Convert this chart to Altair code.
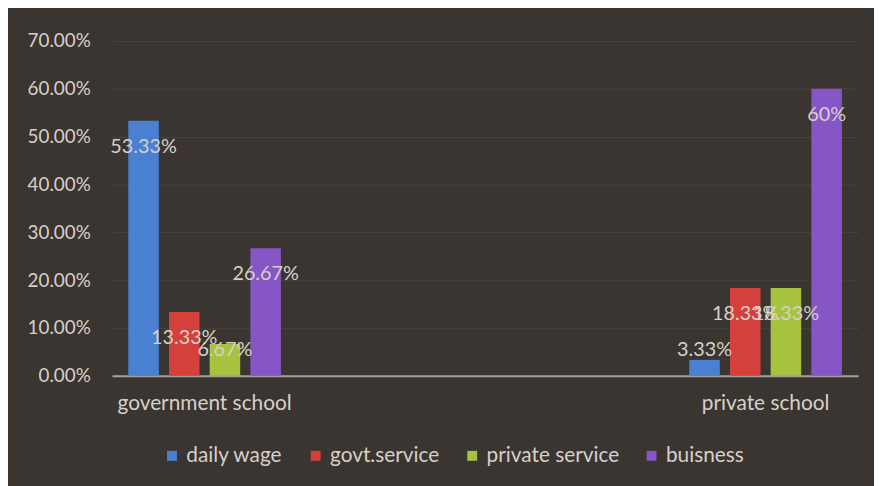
import altair as alt
import pandas as pd

schools = ["government school", "private school"]
occupations = ["daily wage", "govt.service", "private service", "buisness"]
gov_values = [0.5333, 0.1333, 0.0667, 0.2667]
pvt_values = [0.0333, 0.1833, 0.1833, 0.60]
gov_labels = ["53.33%", "13.33%", "6.67%", "26.67%"]
pvt_labels = ["3.33%", "18.33%", "18.33%", "60%"]
colors = ["#4a80d2", "#d4403c", "#a6c23e", "#8756c6"]
y_ticks = [0, 0.1, 0.2, 0.3, 0.4, 0.5, 0.6, 0.7]

rows = []
for school, vals, labs in [(schools[0], gov_values, gov_labels), (schools[1], pvt_values, pvt_labels)]:
    for occ, v, l in zip(occupations, vals, labs):
        rows.append({"school": school, "occupation": occ, "value": v, "label": l})
df = pd.DataFrame(rows)

FONT = "Lato"
TXT = "#d6d0ca"

x_enc = alt.X("school:N", sort=schools,
              scale=alt.Scale(paddingInner=0.728, paddingOuter=0.029),
              axis=alt.Axis(title=None, labelAngle=0, ticks=False, tickSize=0,
                            domainColor="#a8a29c", domainWidth=2,
                            labelColor=TXT, labelFont=FONT, labelFontSize=21,
                            labelPadding=17))
xoff = alt.XOffset("occupation:N", sort=occupations,
                   scale=alt.Scale(paddingInner=0.25, paddingOuter=0))

base = alt.Chart(df)

bars = base.mark_bar().encode(
    x=x_enc,
    xOffset=xoff,
    y=alt.Y("value:Q", scale=alt.Scale(domain=[0, 0.7], nice=False),
            axis=alt.Axis(title=None, values=y_ticks, format=".2%",
                          domain=False, ticks=False, tickSize=0,
                          labelColor=TXT, labelFont=FONT, labelFontSize=19,
                          labelPadding=22, gridColor="#5a524d", gridOpacity=0.45)),
    color=alt.Color("occupation:N", sort=occupations,
                    scale=alt.Scale(domain=occupations, range=colors),
                    legend=alt.Legend(title=None, orient="none", direction="horizontal",
                                      legendX=50, legendY=408,
                                      symbolType="square", symbolSize=100,
                                      symbolStrokeWidth=0,
                                      labelColor=TXT, labelFont=FONT, labelFontSize=21,
                                      labelOffset=4, columnPadding=22)),
)

labels = base.transform_calculate(
    ly="max(datum.value - 0.055, 0.053)"
).mark_text(font=FONT, fontSize=20, color=TXT, baseline="middle", align="center").encode(
    x=alt.X("school:N", sort=schools),
    xOffset=xoff,
    y=alt.Y("ly:Q"),
    text="label:N",
)

chart = alt.layer(bars, labels).properties(
    width=753, height=338,
    autosize=alt.AutoSizeParams(type="none"),
    padding={"left": 105, "top": 31, "right": 16, "bottom": 109},
    background="#3b3531",
).configure_view(stroke=None)

chart.save("out.html", embed_options={"renderer": "svg", "actions": False})
